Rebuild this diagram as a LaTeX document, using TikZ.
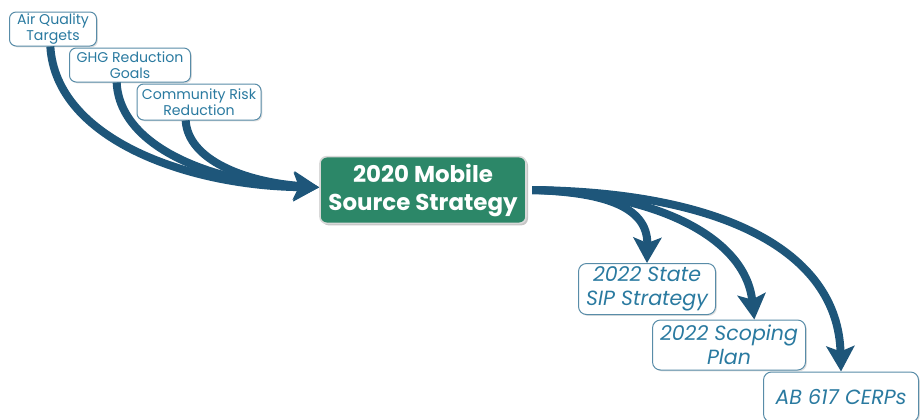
\documentclass[tikz,border=0pt]{standalone}
\usepackage{fontspec}
\setmainfont{Poppins}
\usetikzlibrary{arrows.meta,shadows}

\definecolor{flowblue}{RGB}{30,86,122}
\definecolor{textblue}{RGB}{42,122,160}
\definecolor{edgeblue}{RGB}{88,140,168}
\definecolor{mssgreen}{RGB}{44,135,104}

\tikzset{every picture/.style={line width=0.75pt}}
\tikzset{
  goalbox/.style={draw=edgeblue, fill=white, rounded corners=5, align=center, text=textblue,
    font=\fontsize{10.6}{12.2}\selectfont, inner sep=1pt,
    drop shadow={opacity=0.25, shadow xshift=1pt, shadow yshift=-1pt}},
  planbox/.style={draw=edgeblue, fill=white, rounded corners=6, align=center, text=textblue,
    font=\fontsize{15.4}{18}\selectfont\itshape, inner sep=1pt,
    drop shadow={opacity=0.25, shadow xshift=1pt, shadow yshift=-1pt}},
  mainbox/.style={draw=gray!30, line width=1.2pt, fill=mssgreen, rounded corners=5, align=center, text=white,
    font=\fontsize{17.2}{21}\selectfont\bfseries,
    drop shadow={opacity=0.45, shadow xshift=1.5pt, shadow yshift=-1.5pt}},
  flow/.style={draw=flowblue, line width=6pt, -{Stealth[length=19pt,width=21pt,inset=4pt]}, flowblue}
}

\begin{document}
\begin{tikzpicture}[x=0.75pt,y=0.75pt,yscale=-1,xscale=1]
	\useasboundingbox (0,0) rectangle (923,419);
	
	% Text Node
	\node [goalbox, minimum width=65.25pt, minimum height=25.5pt] (air) at (53,29) {Air Quality\\Targets};
	% Text Node
	\node [goalbox, minimum width=90.75pt, minimum height=25.5pt] (ghg) at (130,65) {GHG Reduction\\Goals};
	% Text Node
	\node [goalbox, minimum width=93pt, minimum height=27pt] (risk) at (199,102) {Community Risk\\Reduction};
	% Text Node
	\node [mainbox, minimum width=154.5pt, minimum height=50pt] (mss) at (423,190) {2020 Mobile\\Source Strategy};
	% Text Node
	\node [planbox, minimum width=102.75pt, minimum height=38.25pt] (sip) at (647,289) {2022 State\\SIP Strategy};
	% Text Node
	\node [planbox, minimum width=114.75pt, minimum height=37.5pt] (scope) at (729,345) {2022 Scoping\\Plan};
	% Text Node
	\node [planbox, minimum width=116.25pt, minimum height=37.5pt] (cerp) at (841,397) {AB 617 CERPs};
	
	%Curve Lines into strategy
	\draw [flow] ([xshift=-2]air.south) .. controls (56,140) and (190,186) .. ([yshift=-2]mss.west);
	\draw [flow] ([xshift=-10]ghg.south) .. controls (120,150) and (220,184) .. ([yshift=-2]mss.west);
	\draw [flow] ([xshift=-10]risk.south) .. controls (188,160) and (245,182) .. ([yshift=-2]mss.west);
	
	%Curve Lines out of strategy
	\draw [flow] ([xshift=4]mss.east) .. controls (600,192) and (648,205) .. (sip.north);
	\draw [flow] ([xshift=4]mss.east) .. controls (650,192) and (745,235) .. ([xshift=19]scope.north);
	\draw [flow] ([xshift=4]mss.east) .. controls (720,192) and (838,250) .. (cerp.north);
	
\end{tikzpicture}
\end{document}
